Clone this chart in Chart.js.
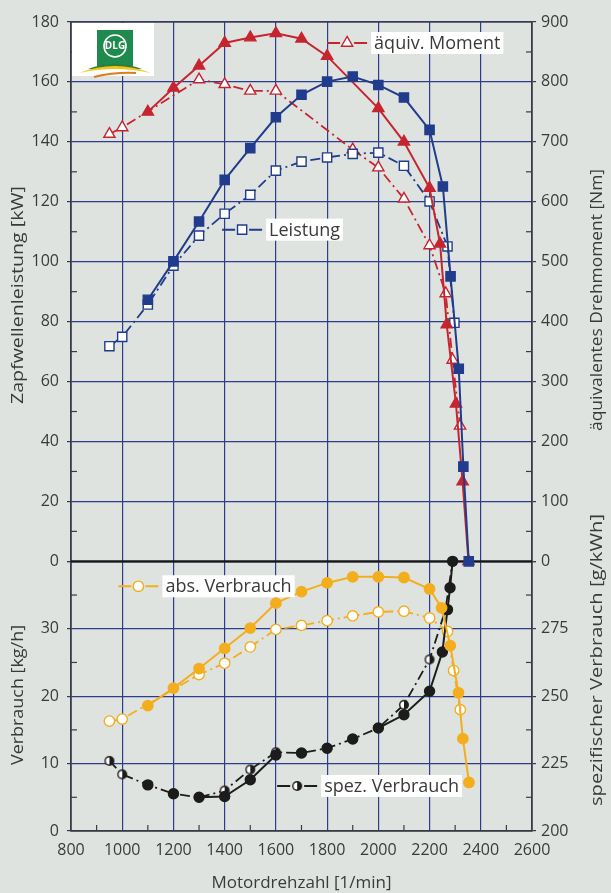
<!DOCTYPE html>
<html>
<head>
<meta charset="utf-8">
<script src="https://cdn.jsdelivr.net/npm/chart.js@4.4.1/dist/chart.umd.min.js"></script>
<style>
  html, body { margin: 0; padding: 0; background: #dfe3df; }
</style>
</head>
<body>
<canvas id="myChart" width="611" height="893"></canvas>
<script>
// values

// Zapfwellenleistung [kW] – full line, filled squares
const leistungRpm = [1100, 1200, 1300, 1400, 1500, 1600, 1700, 1800, 1900, 2000, 2100, 2200, 2252, 2282, 2314, 2332, 2353];
const leistungKW = [87.3, 100.1, 113.4, 127.3, 137.9, 148.2, 155.7, 160.1, 161.8, 159.0, 154.8, 144.0, 125.1, 95.1, 64.3, 31.6, 0];
// Zapfwellenleistung [kW] – dash-dot line, open squares
const leistung2Rpm = [950, 1000, 1100, 1200, 1300, 1400, 1500, 1600, 1700, 1800, 1900, 2000, 2100, 2200, 2270, 2297];
const leistung2KW = [71.8, 74.9, 85.7, 98.7, 108.7, 116.0, 122.3, 130.4, 133.4, 134.8, 136.0, 136.4, 132.0, 120.1, 105.1, 79.6];

// äquivalentes Drehmoment [Nm]
const momentRpm = [1100, 1200, 1300, 1400, 1500, 1600, 1700, 1800, 2000, 2100, 2200, 2241, 2267, 2303, 2329, 2352];
const momentNm = [750, 790, 827, 865, 874, 881, 872, 843, 756, 700, 623, 530, 395, 263, 133, 0];
const moment2Rpm = [950, 1000, 1300, 1400, 1500, 1600, 1900, 2000, 2100, 2200, 2263, 2290, 2319];
const moment2Nm = [713, 724, 804, 796, 785, 785, 687, 657, 605, 527, 447, 336, 226];

// abs. Verbrauch [kg/h]
const absRpm = [1100, 1200, 1300, 1400, 1500, 1600, 1700, 1800, 1900, 2000, 2100, 2200, 2247, 2281, 2313, 2330, 2354];
const absKgh = [18.6, 21.2, 24.1, 27.1, 30.1, 33.8, 35.5, 36.8, 37.7, 37.7, 37.6, 35.9, 33.1, 27.5, 20.5, 13.7, 7.2];
const abs2Rpm = [950, 1000, 1300, 1400, 1500, 1600, 1700, 1800, 1900, 2000, 2100, 2200, 2270, 2294, 2320];
const abs2Kgh = [16.3, 16.6, 23.2, 24.9, 27.3, 29.9, 30.5, 31.2, 31.9, 32.5, 32.6, 31.6, 29.6, 23.8, 18.0];

// spez. Verbrauch [g/kWh]
const spezRpm = [1100, 1200, 1300, 1400, 1500, 1600, 1700, 1800, 1900, 2000, 2100, 2200, 2250, 2270, 2280, 2290];
const spezGkwh = [217.1, 213.8, 212.5, 212.8, 219.0, 228.2, 228.9, 230.7, 234.1, 238.2, 243.1, 251.8, 266.4, 282.1, 290.2, 300];
const spez2Rpm = [950, 1000, 1100, 1200, 1300, 1400, 1500, 1600, 1700, 1800, 1900, 2000, 2100, 2200, 2262, 2290];
const spez2Gkwh = [226.0, 221.0, 217.1, 213.8, 212.5, 215.0, 222.8, 229.2, 228.9, 230.7, 234.1, 238.2, 246.8, 263.6, 282.0, 300];

const BLUE = '#213c8c';
const RED = '#c62530';
const ORANGE = '#f3ae1d';
const BLACK = '#1c1c1c';
const GRID = '#2e3c8e';
const FRAME = '#3b3b45';
const TEXT = '#3a3a3a';
const FONT = "'Open Sans', sans-serif";
const DASHDOT = [10, 4, 2, 4];

const pts = (xs, ys) => xs.map((x, i) => ({ x: x, y: ys[i] }));

// black dot with white left half for the second spez. series
const halfDot = (() => {
  const c = document.createElement('canvas');
  c.width = 12; c.height = 12;
  const g = c.getContext('2d');
  g.beginPath(); g.arc(6, 6, 5, 0, Math.PI * 2); g.fillStyle = BLACK; g.fill();
  g.beginPath(); g.arc(6, 6, 3.6, Math.PI * 0.5, Math.PI * 1.5); g.closePath();
  g.fillStyle = '#ffffff'; g.fill();
  return c;
})();

const line = (label, data, axis, color, style, filled, dashed, radius) => ({
  label: label,
  data: data,
  yAxisID: axis,
  borderColor: color,
  borderWidth: dashed ? 1.8 : 2,
  borderDash: dashed ? DASHDOT : [],
  pointStyle: style,
  pointRadius: radius,
  pointBorderWidth: 1.4,
  pointBorderColor: color,
  pointBackgroundColor: filled ? color : '#ffffff',
  tension: 0,
  fill: false,
  clip: false,
});

const datasets = [
  line('Leistung', pts(leistungRpm, leistungKW), 'yKW', BLUE, 'rect', true, false, 6.5),
  line('äquiv. Moment', pts(momentRpm, momentNm), 'yNm', RED, 'triangle', true, false, 6.5),
  line('abs. Verbrauch', pts(absRpm, absKgh), 'yKgh', ORANGE, 'circle', true, false, 5.2),
  Object.assign(line('spez. Verbrauch', pts(spezRpm, spezGkwh), 'yGkwh', BLACK, 'circle', true, false, 5), {
    segment: {
      borderColor: (c) => {
        const x0 = c.p0.parsed.x;
        return (x0 < 1300 || (x0 >= 1600 && x0 < 2000)) ? 'rgba(0,0,0,0)' : undefined;
      },
    },
  }),
  line('Leistung 2', pts(leistung2Rpm, leistung2KW), 'yKW', BLUE, 'rect', false, true, 6.5),
  line('äquiv. Moment 2', pts(moment2Rpm, moment2Nm), 'yNm', RED, 'triangle', false, true, 6.5),
  line('abs. Verbrauch 2', pts(abs2Rpm, abs2Kgh), 'yKgh', ORANGE, 'circle', false, true, 5.2),
  line('spez. Verbrauch 2', pts(spez2Rpm, spez2Gkwh), 'yGkwh', BLACK, halfDot, false, true, 5),
];

function marker(ctx, style, x, y, color) {
  ctx.save();
  ctx.lineWidth = 1.4;
  ctx.strokeStyle = color;
  ctx.fillStyle = '#ffffff';
  ctx.beginPath();
  if (style === 'triangle') {
    const r = 6.5;
    ctx.moveTo(x, y - r);
    ctx.lineTo(x + r * 0.866, y + r / 2);
    ctx.lineTo(x - r * 0.866, y + r / 2);
    ctx.closePath();
  } else if (style === 'rect') {
    ctx.rect(x - 4.6, y - 4.6, 9.2, 9.2);
  } else if (style === 'circle') {
    ctx.arc(x, y, 5.2, 0, Math.PI * 2);
  } else {
    ctx.restore();
    ctx.drawImage(halfDot, x - 6, y - 6);
    return;
  }
  ctx.fill();
  ctx.stroke();
  ctx.restore();
}

function vTitle(ctx, text, x, y, len) {
  ctx.save();
  ctx.translate(x, y);
  ctx.rotate(-Math.PI / 2);
  ctx.font = '17px ' + FONT;
  const w = ctx.measureText(text).width;
  ctx.scale(len / w, 1);
  ctx.fillStyle = TEXT;
  ctx.textAlign = 'center';
  ctx.textBaseline = 'middle';
  ctx.fillText(text, 0, 0);
  ctx.restore();
}

const decor = {
  id: 'decor',
  beforeDraw(chart) {
    const ctx = chart.ctx;
    ctx.save();
    ctx.fillStyle = '#dfe3df';
    ctx.fillRect(0, 0, chart.width, chart.height);
    ctx.restore();
  },
  beforeDatasetsDraw(chart) {
    const { ctx, chartArea: a, scales: s } = chart;
    const seg = (x1, y1, x2, y2) => { ctx.beginPath(); ctx.moveTo(x1, y1); ctx.lineTo(x2, y2); ctx.stroke(); };
    ctx.save();
    ctx.strokeStyle = FRAME;
    ctx.lineWidth = 1.2;
    for (let v = 10; v < 180; v += 20) { const y = s.yKW.getPixelForValue(v); seg(a.left, y, a.left + 6, y); }
    for (let v = 5; v < 40; v += 10) { const y = s.yKgh.getPixelForValue(v); seg(a.left, y, a.left + 6, y); }
    for (let v = 50; v < 900; v += 100) { const y = s.yNm.getPixelForValue(v); seg(a.right, y, a.right - 6, y); }
    for (let v = 212.5; v < 300; v += 25) { const y = s.yGkwh.getPixelForValue(v); seg(a.right, y, a.right - 6, y); }
    for (let v = 900; v < 2600; v += 200) { const x = s.x.getPixelForValue(v); seg(x, a.bottom, x, a.bottom - 6); }

    ctx.lineWidth = 1.3;
    ctx.strokeRect(a.left, a.top, a.right - a.left, a.bottom - a.top);
    ctx.strokeStyle = '#161616';
    ctx.lineWidth = 2.2;
    const ys = s.yKW.getPixelForValue(0);
    seg(a.left, ys, a.right, ys);

    // DLG logo
    const lx = a.left + 1, ly = a.top + 1;
    ctx.fillStyle = '#ffffff';
    ctx.fillRect(lx, ly, 82, 53);
    ctx.fillStyle = '#1f8a4e';
    ctx.fillRect(lx + 25, ly + 7, 36, 36);
    ctx.strokeStyle = '#ffffff';
    ctx.lineWidth = 1.6;
    ctx.beginPath(); ctx.arc(lx + 43, ly + 23, 11, 0, Math.PI * 2); ctx.stroke();
    ctx.fillStyle = '#ffffff';
    ctx.font = 'bold 10px ' + FONT;
    ctx.textAlign = 'center';
    ctx.textBaseline = 'middle';
    ctx.fillText('DLG', lx + 43, ly + 23.5);
    ctx.fillStyle = '#2e7d3a';
    ctx.beginPath();
    ctx.moveTo(lx + 16, ly + 46); ctx.quadraticCurveTo(lx + 43, ly + 36, lx + 70, ly + 46);
    ctx.lineTo(lx + 16, ly + 46); ctx.fill();
    ctx.fillStyle = '#f2c619';
    ctx.beginPath();
    ctx.moveTo(lx + 7, ly + 50); ctx.quadraticCurveTo(lx + 43, ly + 36, lx + 79, ly + 50);
    ctx.quadraticCurveTo(lx + 43, ly + 42, lx + 7, ly + 50); ctx.fill();
    ctx.strokeStyle = '#e07a1f';
    ctx.lineWidth = 2;
    ctx.beginPath(); ctx.moveTo(lx + 22, ly + 54); ctx.quadraticCurveTo(lx + 43, ly + 49, lx + 64, ly + 50); ctx.stroke();
    ctx.restore();
  },
  afterDatasetsDraw(chart) {
    const { ctx, scales: s } = chart;
    const tags = [
      { text: 'äquiv. Moment', rpm: 1800, v: 865, axis: 'yNm', color: RED, style: 'triangle' },
      { text: 'Leistung', rpm: 1390, v: 110.7, axis: 'yKW', color: BLUE, style: 'rect' },
      { text: 'abs. Verbrauch', rpm: 985, v: 36.3, axis: 'yKgh', color: ORANGE, style: 'circle' },
      { text: 'spez. Verbrauch', rpm: 1605, v: 216.7, axis: 'yGkwh', color: BLACK, style: 'half' },
    ];
    ctx.save();
    ctx.font = '18px ' + FONT;
    ctx.textBaseline = 'middle';
    ctx.textAlign = 'left';
    tags.forEach((t) => {
      const x = s.x.getPixelForValue(t.rpm);
      const y = s[t.axis].getPixelForValue(t.v);
      ctx.strokeStyle = t.color;
      ctx.lineWidth = 2;
      ctx.beginPath();
      ctx.moveTo(x, y); ctx.lineTo(x + 13, y);
      ctx.moveTo(x + 27, y); ctx.lineTo(x + 40, y);
      ctx.stroke();
      marker(ctx, t.style, x + 20, y, t.color);
      const w = ctx.measureText(t.text).width;
      ctx.fillStyle = '#ffffff';
      ctx.fillRect(x + 44, y - 11, w + 6, 22);
      ctx.fillStyle = TEXT;
      ctx.fillText(t.text, x + 47, y + 1);
    });
    ctx.restore();
  },
  afterDraw(chart) {
    const { ctx } = chart;
    vTitle(ctx, 'Zapfwellenleistung [kW]', 18, 295, 218);
    vTitle(ctx, 'Verbrauch [kg/h]', 18, 695, 140);
    vTitle(ctx, 'äquivalentes Drehmoment [Nm]', 597, 300, 262);
    vTitle(ctx, 'spezifischer Verbrauch [g/kWh]', 597, 660, 292);
  },
};

const tickFont = { family: FONT, size: 16 };
const plain = (v) => String(v);
const leftAxis = (min, max, step, weight, hideTop) => ({
  type: 'linear',
  position: 'left',
  stack: 'left',
  stackWeight: weight,
  min: min,
  max: max,
  ticks: {
    stepSize: step,
    autoSkip: false,
    font: tickFont,
    color: TEXT,
    padding: 8,
    callback: (v) => (hideTop && v === max ? '' : plain(v)),
  },
  grid: { color: GRID, lineWidth: 1.2, tickColor: FRAME, tickLength: 4 },
  border: { color: FRAME, width: 1.3 },
  afterFit: (scale) => { scale.width = 71; },
});
const rightAxis = (min, max, step, weight, hideTop) => ({
  type: 'linear',
  position: 'right',
  stack: 'right',
  stackWeight: weight,
  min: min,
  max: max,
  ticks: {
    stepSize: step,
    autoSkip: false,
    font: tickFont,
    color: TEXT,
    padding: 5,
    callback: (v) => (hideTop && v === max ? '' : plain(v)),
  },
  grid: { drawOnChartArea: false, tickColor: FRAME, tickLength: 4, lineWidth: 1.2 },
  border: { color: FRAME, width: 1.3 },
  afterFit: (scale) => { scale.width = 79; },
});

new Chart(document.getElementById('myChart'), {
  type: 'line',
  data: { datasets: datasets },
  plugins: [decor],
  options: {
    responsive: false,
    animation: false,
    devicePixelRatio: 1,
    layout: { padding: { top: 22, left: 0, right: 0, bottom: 0 } },
    plugins: { legend: { display: false }, tooltip: { enabled: false } },
    scales: {
      x: {
        type: 'linear',
        min: 800,
        max: 2600,
        ticks: { stepSize: 200, autoSkip: false, maxRotation: 0, font: tickFont, color: TEXT, padding: 10, callback: plain },
        grid: { color: GRID, lineWidth: 1.2, drawTicks: false },
        border: { color: FRAME, width: 1.3 },
        title: {
          display: true,
          text: 'Motordrehzahl [1/min]',
          font: { family: FONT, size: 17 },
          color: TEXT,
          padding: { top: 0, bottom: 0 },
        },
        afterFit: (scale) => { scale.height = 62; },
      },
      yKgh: leftAxis(0, 40, 10, 1, true),
      yKW: leftAxis(0, 180, 20, 2, false),
      yNm: rightAxis(0, 900, 100, 2, false),
      yGkwh: rightAxis(200, 300, 25, 1, true),
    },
  },
});
</script>
</body>
</html>
